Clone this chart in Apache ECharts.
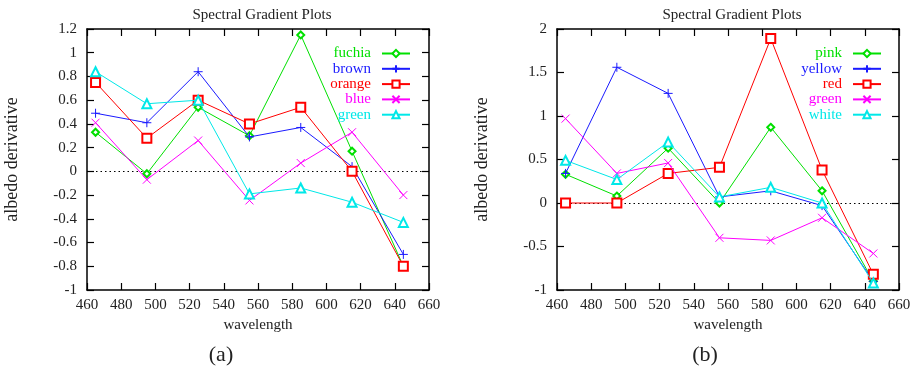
<!DOCTYPE html>
<html><head><meta charset="utf-8">
<script src="https://cdn.jsdelivr.net/npm/echarts@6/dist/echarts.min.js"></script>
<style>html,body{margin:0;padding:0;background:#fff}#c{width:914px;height:368px}</style>
</head><body><div id="c"></div>
<script>
const wavelengths = [465, 495, 525, 555, 585, 615, 645];
// panel (a)
const fuchia = [0.33, -0.02, 0.54, 0.30, 1.15, 0.17, -0.80];
const brown  = [0.49, 0.41, 0.84, 0.29, 0.37, 0.04, -0.70];
const orange = [0.75, 0.28, 0.60, 0.40, 0.54, 0.00, -0.80];
const blueA  = [0.41, -0.07, 0.26, -0.245, 0.07, 0.33, -0.20];
const greenA = [0.84, 0.57, 0.60, -0.19, -0.14, -0.26, -0.43];
// panel (b)
const pink   = [0.33, 0.08, 0.63, 0.00, 0.87, 0.14, -0.90];
const yellow = [0.34, 1.56, 1.26, 0.07, 0.14, -0.03, -0.90];
const red    = [0.00, 0.00, 0.34, 0.41, 1.89, 0.38, -0.82];
const greenB = [0.97, 0.34, 0.46, -0.40, -0.43, -0.17, -0.58];
const white  = [0.49, 0.27, 0.70, 0.07, 0.18, 0.00, -0.92];

const namesA = ['fuchia', 'brown', 'orange', 'blue', 'green'];
const namesB = ['pink', 'yellow', 'red', 'green', 'white'];
const valsA = [fuchia, brown, orange, blueA, greenA];
const valsB = [pink, yellow, red, greenB, white];

const ZW = '\u200b';
const colors = ['#00e000', '#1a1aff', '#ff0000', '#ff00ff', '#00e8e8'];
const PLUS = 'path://M0,5L10,5M5,0L5,10';
const CROSS = 'path://M0,0L10,10M0,10L10,0';
const symbols = ['emptyDiamond', PLUS, 'emptyRect', CROSS, 'emptyTriangle'];
const sizes = [7, 9, 9, 8, 9];
const font = 'Liberation Serif';
const txt = '#222';

function mkSeries(names, vals, gi, suffix) {
  return names.map((n, i) => {
    const s = {
      name: n + suffix, type: 'line', xAxisIndex: gi, yAxisIndex: gi,
      data: wavelengths.map((w, k) => [w, vals[i][k]]),
      symbol: symbols[i], symbolSize: sizes[i], showSymbol: true,
      lineStyle: { color: colors[i], width: 1 },
      itemStyle: { color: colors[i], borderColor: colors[i], borderWidth: 1 },
      animation: false, z: 3 + i
    };
    if (i === 0) {
      s.markLine = {
        silent: true, symbol: 'none', animation: false,
        label: { show: false },
        lineStyle: { color: '#000', type: [1.5, 3], width: 1 },
        data: [{ yAxis: 0 }], z: 1
      };
    }
    return s;
  });
}

const axisCommon = {
  axisLine: { show: true, onZero: false, lineStyle: { color: '#000', width: 1.5 } },
  axisTick: { show: true, inside: true, length: 7, lineStyle: { color: '#000', width: 1.2 } },
  splitLine: { show: false }
};

function xAx(gi, pos, labels) {
  return Object.assign({}, JSON.parse(JSON.stringify(axisCommon)), {
    type: 'value', gridIndex: gi, position: pos, min: 460, max: 660, interval: 20,
    axisLabel: { show: labels, color: txt, fontFamily: font, fontSize: 15, margin: 8 },
    name: labels ? 'wavelength' : '', nameLocation: 'middle', nameGap: 24,
    nameTextStyle: { color: txt, fontFamily: font, fontSize: 15 }
  });
}
function yAx(gi, pos, labels, min, max, iv) {
  return Object.assign({}, JSON.parse(JSON.stringify(axisCommon)), {
    type: 'value', gridIndex: gi, position: pos, min: min, max: max, interval: iv,
    axisLabel: { show: labels, color: txt, fontFamily: font, fontSize: 15, margin: 10 },
    name: labels ? 'albedo derivative' : '', nameLocation: 'middle', nameGap: 66, nameRotate: 90,
    nameTextStyle: { color: txt, fontFamily: font, fontSize: 18 }
  });
}

function mkLegend(names, suffix, right) {
  return {
    orient: 'vertical', right: right, top: 46, align: 'right', padding: 0,
    itemWidth: 28, itemHeight: 9, itemGap: 0.3,
    textStyle: { fontFamily: font, fontSize: 15, lineHeight: 15, padding: [0, 6, 0, 0] },
    formatter: n => n.replace(ZW, ''),
    data: names.map((n, i) => ({ name: n + suffix, textStyle: { color: colors[i] } })),
    selectedMode: false
  };
}

const chart = echarts.init(document.getElementById('c'), null, { renderer: 'canvas' });
chart.setOption({
  animation: false,
  backgroundColor: '#fff',
  title: [
    { text: 'Spectral Gradient Plots', left: 257, top: 3, textAlign: 'center',
      textStyle: { fontFamily: font, fontSize: 15, fontWeight: 'normal', color: txt } },
    { text: 'Spectral Gradient Plots', left: 727, top: 3, textAlign: 'center',
      textStyle: { fontFamily: font, fontSize: 15, fontWeight: 'normal', color: txt } },
    { text: '(a)', left: 216, top: 339, textAlign: 'center',
      textStyle: { fontFamily: font, fontSize: 22, fontWeight: 'normal', color: txt } },
    { text: '(b)', left: 700, top: 339, textAlign: 'center',
      textStyle: { fontFamily: font, fontSize: 22, fontWeight: 'normal', color: txt } }
  ],
  legend: [mkLegend(namesA, '', 503), mkLegend(namesB, ZW, 32)],
  grid: [
    { left: 87, right: 485, top: 29, bottom: 78 },
    { left: 557, right: 15, top: 29, bottom: 78 }
  ],
  xAxis: [xAx(0, 'bottom', true), xAx(1, 'bottom', true), xAx(0, 'top', false), xAx(1, 'top', false)],
  yAxis: [yAx(0, 'left', true, -1, 1.2, 0.2), yAx(1, 'left', true, -1, 2, 0.5),
          yAx(0, 'right', false, -1, 1.2, 0.2), yAx(1, 'right', false, -1, 2, 0.5)],
  series: mkSeries(namesA, valsA, 0, '').concat(mkSeries(namesB, valsB, 1, ZW))
});
</script>
</body></html>
